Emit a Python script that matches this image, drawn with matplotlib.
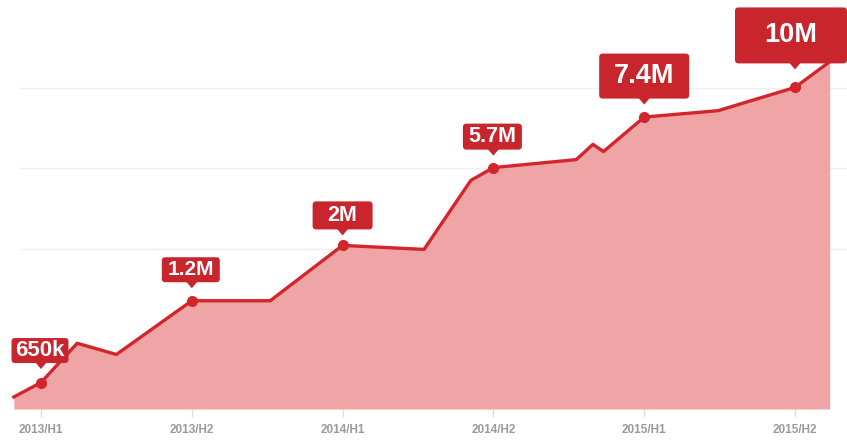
import matplotlib.pyplot as plt
import matplotlib.transforms as mtransforms
from matplotlib.patches import FancyBboxPatch, Polygon

plt.rcParams['font.family'] = ['Liberation Sans', 'DejaVu Sans']

# x in half-years (0 = 2013/H1), y in gridline units
x = [-0.18, 0.0, 0.24, 0.50, 1.0, 1.52, 2.0, 2.54, 2.85, 3.0, 3.55, 3.66, 3.73, 4.0, 4.49, 5.0, 5.23]
y = [0.15, 0.33, 0.82, 0.68, 1.35, 1.35, 2.04, 1.99, 2.85, 3.01, 3.11, 3.30, 3.21, 3.64, 3.72, 4.01, 4.33]

periods = ['2013/H1', '2013/H2', '2014/H1', '2014/H2', '2015/H1', '2015/H2']
milestones = ['650k', '1.2M', '2M', '5.7M', '7.4M', '10M']
milestone_idx = [1, 4, 6, 9, 13, 15]

# label box styling (pixels / points)
box_w = [57, 58, 60, 59, 90, 112]
box_h = [25, 25, 28, 26, 45, 56]
box_dy = [32, 31, 30, 31, 41, 52]
box_dx = [-1, -1, 0, -1, 0, -4]
font_sz = [16, 15, 15.5, 15.5, 19.5, 19.5]

line_c = '#D3262C'
fill_c = '#EFA4A6'
box_c = '#C8252D'

fig = plt.figure(figsize=(8.47, 4.41), dpi=100)
ax = fig.add_axes([0, 32 / 441, 1, 409 / 441])
ax.set_xlim(-41 / 150.8, (847 - 41) / 150.8)
ax.set_ylim(0, 5.1)

for g in [2, 3, 4]:
    ax.axhline(g, xmin=20 / 847, color='#efefef', lw=1, zorder=0)

ax.fill_between(x, y, 0, color=fill_c, lw=0, zorder=1)
ax.plot(x, y, color=line_c, lw=2.4, zorder=2)

mx = [x[i] for i in milestone_idx]
my = [y[i] for i in milestone_idx]
ax.plot(mx, my, 'o', color=line_c, ms=7, zorder=3)

for i, lab in enumerate(milestones):
    t = fig.dpi_scale_trans + mtransforms.ScaledTranslation(mx[i], my[i], ax.transData)
    w, h = box_w[i] / 100, box_h[i] / 100
    cx, cy = box_dx[i] / 100, box_dy[i] / 100
    box = FancyBboxPatch((cx - w / 2, cy - h / 2), w, h,
                         boxstyle='round,pad=0,rounding_size=0.035',
                         transform=t, color=box_c, lw=0, zorder=4, clip_on=False)
    ax.add_patch(box)
    bot = cy - h / 2
    tri = Polygon([(-0.06, bot + 0.01), (0.06, bot + 0.01), (0, bot - 0.06)],
                  closed=True, transform=t, color=box_c, lw=0, zorder=4, clip_on=False)
    ax.add_patch(tri)
    ax.text(cx, cy, lab, transform=t, ha='center', va='center', color='white',
            fontsize=font_sz[i], fontweight='bold', zorder=5)

ax.set_xticks(range(len(periods)), periods)
ax.set_yticks([])
ax.tick_params(axis='x', length=6, width=1, color='#dddddd', pad=5,
               labelsize=8.5, labelcolor='#9a9a9a')
for tl in ax.get_xticklabels():
    tl.set_fontweight('bold')
for s in ax.spines.values():
    s.set_visible(False)

fig.savefig('out.png', dpi=100)
